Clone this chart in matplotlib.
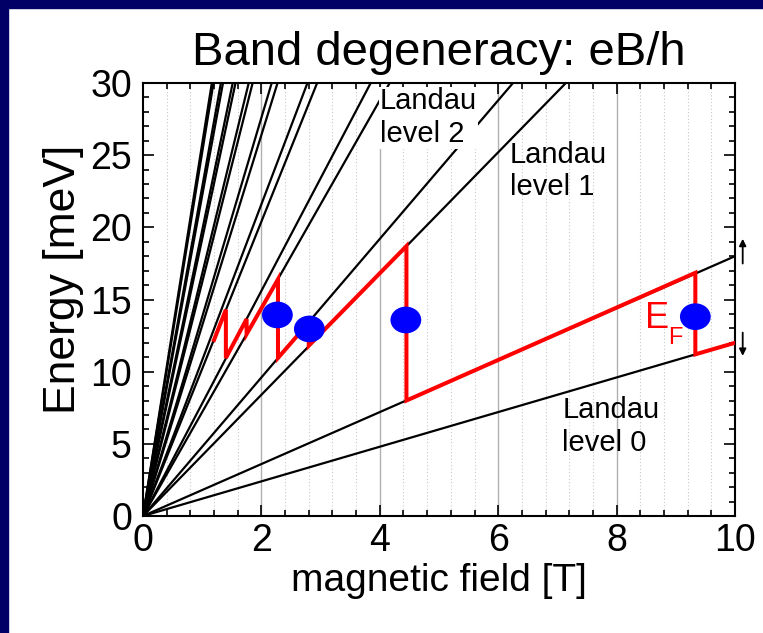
import matplotlib
matplotlib.use("Agg")
import matplotlib.pyplot as plt
from matplotlib.patches import Ellipse, Rectangle
from matplotlib.ticker import MultipleLocator

plt.rcParams['font.family'] = ['Liberation Sans', 'DejaVu Sans']

# ---- data ----
# Landau level slopes (meV/T), spin-split pairs, level 0 upwards
level_slopes = [1.2, 1.8, 4.2, 4.8, 7.2, 7.8, 10.2, 10.8, 13.2, 13.8,
                16.2, 16.8, 19.2, 19.8, 22.2, 22.8, 25.2, 25.8]
# Fermi energy polyline
ef_B = [1.20, 1.40, 1.40, 1.75, 1.75, 2.28, 2.28, 2.80, 2.80, 4.45, 4.45, 9.33, 9.33, 10.0]
ef_E = [12.2, 14.3, 10.95, 13.65, 12.6, 16.4, 10.95, 13.4, 11.8, 18.7, 8.0, 16.85, 11.2, 12.0]
# blue electron markers
dot_B = [2.27, 2.81, 4.44, 9.33]
dot_E = [13.93, 12.96, 13.58, 13.81]
# labels
label_texts = ["Landau\nlevel 2", "Landau\nlevel 1", "Landau\nlevel 0"]
label_B = [4.0, 6.2, 7.08]
label_E = [25.5, 21.8, 4.1]

fig = plt.figure(figsize=(7.63, 6.33), dpi=100)
fig.patch.set_facecolor('white')
ax = fig.add_axes([143/763, 1-516/633, (735-143)/763, (516-83)/633])

ax.set_xlim(0, 10)
ax.set_ylim(0, 30)

# grid
for b in [2, 4, 6, 8]:
    ax.axvline(b, color='#b0b0b0', lw=1.0, zorder=0)
b = 0.4
while b < 10:
    if abs(b/2 - round(b/2)) > 1e-6:
        ax.axvline(b, color='#c8c8c8', lw=0.8, ls=(0, (1, 2)), zorder=0)
    b = round(b + 0.4, 6)

for s in level_slopes:
    ax.axline((0, 0), slope=s, color='black', lw=1.6, zorder=2)

ax.plot(ef_B, ef_E, color='#ff0000', lw=2.9, zorder=3, solid_joinstyle='miter')

for bx, ey in zip(dot_B, dot_E):
    ax.add_patch(Ellipse((bx, ey), 0.52, 1.85, color='#0000ff', zorder=4, lw=0))

for t, bx, ey in zip(label_texts, label_B, label_E):
    ax.text(bx, ey, t, fontsize=21, ha='left', va='bottom', zorder=5,
            linespacing=1.22,
            bbox=dict(facecolor='white', edgecolor='none', pad=0.5) if '2' in t else None)

ax.text(8.48, 13.0, 'E', fontsize=26, color='#ff0000', zorder=5)
ax.text(8.87, 11.95, 'F', fontsize=17, color='#ff0000', zorder=5)

# spin arrows
ax.annotate('', xy=(10.13, 19.4), xytext=(10.13, 17.3), annotation_clip=False,
            arrowprops=dict(arrowstyle='-|>', color='k', lw=1.3, mutation_scale=10))
ax.annotate('', xy=(10.13, 10.9), xytext=(10.13, 12.9), annotation_clip=False,
            arrowprops=dict(arrowstyle='-|>', color='k', lw=1.3, mutation_scale=10))

ax.xaxis.set_major_locator(MultipleLocator(2))
ax.xaxis.set_minor_locator(MultipleLocator(0.4))
ax.yaxis.set_major_locator(MultipleLocator(5))
ax.yaxis.set_minor_locator(MultipleLocator(1))
ax.tick_params(which='both', direction='in', top=True, right=True, width=1.2, color='black')
ax.tick_params(which='major', length=8, labelsize=27, pad=5)
ax.tick_params(which='minor', length=4.5)
ax.tick_params(axis='y', which='major', pad=8)
for sp in ax.spines.values():
    sp.set_linewidth(1.5)

ax.set_xlabel('magnetic field [T]', fontsize=28, labelpad=3)
ax.set_ylabel('Energy [meV]', fontsize=32)
ax.yaxis.set_label_coords(-0.099, 0.547)
ax.set_title('Band degeneracy: eB/h', fontsize=34, pad=13)

# navy slide frame
navy = '#000066'
fig.patches.append(Rectangle((0, 0), 8/763, 1, transform=fig.transFigure, color=navy, zorder=10))
fig.patches.append(Rectangle((0, 1-8/633), 1, 8/633, transform=fig.transFigure, color=navy, zorder=10))

fig.savefig('out.png', dpi=100)
